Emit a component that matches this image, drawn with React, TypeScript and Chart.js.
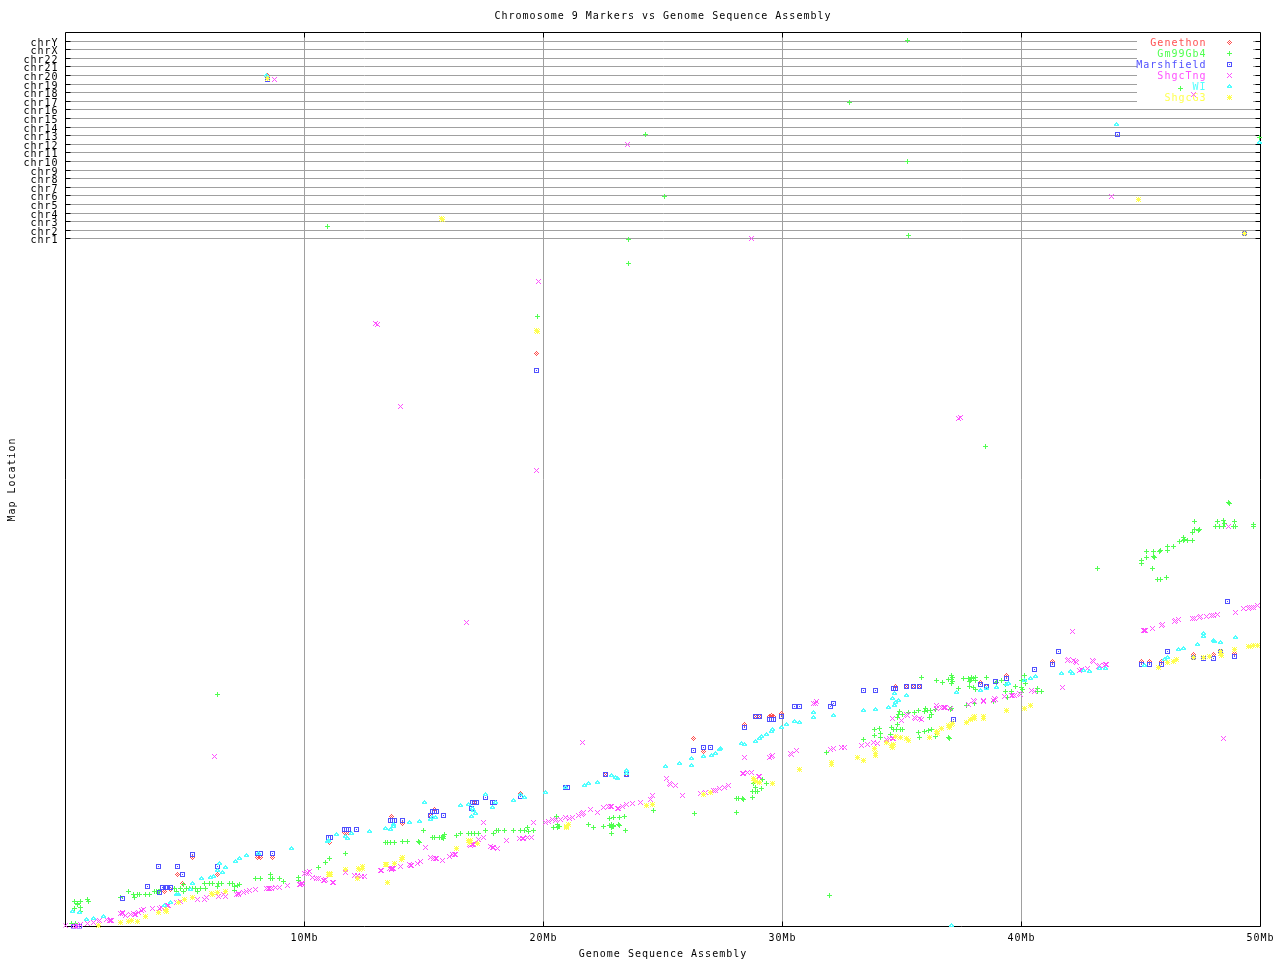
import React, { useEffect, useRef } from "react";
import { Chart, registerables } from "chart.js";

Chart.register(...registerables);

const chrNames = ["chrY","chrX","chr22","chr21","chr20","chr19","chr18","chr17","chr16","chr15","chr14","chr13","chr12","chr11","chr10","chr9","chr8","chr7","chr6","chr5","chr4","chr3","chr2","chr1"];
const chrLocations = [885,877,868,860,851,842,834,825,817,808,799,791,782,774,765,756,748,739,731,722,713,705,696,688];
const megabaseTicks = [10,20,30,40,50];

const genethon: number[][] = [
[5.33,69.3],[4.16,35],[4.41,36.7],[4.7,51.7],[4.91,42.7],[6.37,51.7],[8.05,69.3],[8.17,69.3],[8.67,69.3],[11.06,84.3],
[11.69,94.3],[11.77,94.3],[11.85,94.3],[13.65,109.7],[14.11,102.7],[15.44,116.7],[15.29,110.7],[19.05,132.7],[17.11,123.7],
[22.61,151.7],[23.49,151.7],[26.29,187.7],[26.71,174.7],[28.42,201.7],[28.88,209.7],[29.05,209.7],[29.47,209.7],[29.55,210.7],[29.64,209.7],[29.97,212.7],
[34.73,239.7],[35.2,239.7],[35.5,239.7],[35.75,239.7],[38.3,243.7],[38.55,239.7],[39.39,250.7],
[41.31,264.7],[45.03,264.7],[45.36,264.7],[45.87,264.7],[47.2,271.7],[48.04,271.7],[48.92,272.7],
[8.44,851],[19.71,573],
];

const gm99Gb4: number[][] = [
[0.39,25.3],[0.64,25.3],[0.64,19.3],[0.52,22.3],[0.39,17.7],[0.64,14.7],[0.93,27],[0.98,25.3],[0.26,3.3],[0.43,3.3],
[2.32,28.7],[2.65,34.7],[2.86,31.7],[2.9,28.7],[3.03,31.7],[3.11,31.7],[3.36,31.7],[3.53,31.7],[3.74,34.7],[3.82,34.7],[3.95,34.7],
[4.57,37.7],[4.66,34.7],[4.83,37.7],[4.95,42],[4.95,34.7],[5.08,37.7],[5.2,37.7],[5.33,37.7],[5.45,37.7],[5.54,34.7],[5.66,37.7],[5.87,37.7],
[5.83,42.7],[6.04,42.7],[6.16,42.7],[6.42,42.7],[6.37,39.7],[6.54,42.7],[6.88,42.7],[7,42.7],[7.08,39.7],[7.08,35.7],[7.21,40.7],[7.29,41.7],
[7.96,47.7],[8.17,47.7],[8.59,51.7],[8.59,47.7],[8.67,47.7],[8.97,47.7],[9.14,44.7],[9.76,48.7],[9.76,45.7],[10.6,58.7],[10.89,63.7],[11.06,67.7],
[11.73,72.7],[13.4,83.7],[13.49,83.7],[13.61,83.7],[13.78,83.7],[14.11,84.7],[14.32,84.7],[14.78,84.7],[14.83,83.7],[14.99,95.7],
[15.37,88.7],[15.45,88.7],[15.66,88.7],[15.79,88.7],[15.83,89.7],[15.87,91.7],[16.37,90.7],[16.54,92.7],[16.88,92.7],[17,92.7],[17.13,92.7],[17.3,92.7],
[17.59,95.7],[17.92,92.7],[18.05,95.7],[18.13,95.7],[18.38,95.7],[18.76,95.7],[19.05,95.7],[19.22,95.7],[19.39,94.7],[19.34,98.7],[19.6,95.7],
[20.56,110],[20.43,98.7],[20.6,98.7],[20.6,101.7],[20.65,99.7],[21.06,101.7],[21.9,101.7],[22.1,98.7],[22.52,99.7],[22.77,107.7],[22.94,108.7],[23.19,108.7],[23.4,109.7],
[22.77,100.7],[22.86,101.7],[22.94,99.7],[22.86,98.7],[23.15,101.7],[23.19,100.7],[22.86,92.7],[23.44,95.7],[24.62,115.7],[26.33,112.7],
[28.09,127.7],[28.17,127.7],[28.34,127.7],[28.38,126.7],[28.09,113.7],[28.76,128.7],[28.76,134.7],[28.88,134.7],[28.97,134.7],[29.13,137.7],[28.8,142.7],[29.17,146.7],[29.34,142.7],[28.88,138.7],
[31.85,173.7],[33.4,186.7],[33.86,196.7],[33.86,190.7],[34.07,197.7],[34.11,192.7],[34.11,188.7],[34.57,198.7],[34.53,191.7],[34.66,196.7],[34.78,196.7],[34.95,196.7],[35.03,196.7],[34.83,201.7],
[34.91,215.3],[34.87,211.7],[34.83,208.7],[35,211.7],[35.29,213.7],[35.54,214.3],[35.7,215.7],[35.95,214.7],[35.99,217.7],[36.08,215.7],[36.21,215.7],[36.25,212],[36.17,208.7],
[35.7,193.7],[35.75,188.7],[35.95,194.7],[36.12,195.7],[36.25,196.7],[36.42,189.7],[36.96,188.7],[36.42,216.7],[37.09,217.7],[37.04,216.7],
[35.83,248.7],[36.46,246],[36.71,244],[36.96,246.7],[37.09,250.7],[37.09,246.7],[37.09,242.7],[37.13,244.7],[37.38,237.7],
[37.59,247.7],[37.8,247.7],[37.92,248.7],[38.09,248.7],[37.84,244.7],[37.88,246],[38.09,246],[37.84,239.7],[38.09,236.7],[38,238.7],[38.55,248.7],[38.97,243.7],[39.18,245.7],
[39.34,241.7],[39.34,235.3],[39.59,234.7],[39.76,239.7],[40.01,238.7],[40.06,236.7],[40.01,233.7],[40.14,250.7],[40.14,246.7],[40.01,245.7],[40.18,242.7],[40.68,237.7],[40.68,234.7],[40.85,234.7],
[37.7,220.7],[38.84,224.7],[39.4,228.7],[38.05,222.7],
[48.68,423.7],[47.25,404.7],[48.21,404.7],[48.13,399.7],[48.29,399.7],[48.46,405.7],[48.46,399.7],[48.92,404.7],[48.88,399.7],[48.96,399.7],[49.72,401.7],[49.72,399.7],
[47.25,396.7],[47.46,396.7],[47.41,395.7],[47.16,393.7],[46.79,388.7],[46.62,384.7],[46.79,385.7],[46.95,385.7],[47.16,385.7],[46.37,379.7],[46.12,379.7],[46.12,375.7],[45.82,375.7],[45.78,374.7],
[45.53,374.7],[45.24,374.7],[45.03,365.7],[45.03,362.7],[45.24,368.7],[45.53,369.7],[45.57,368.7],[45.49,357.7],[43.19,357.7],[45.7,346.7],[45.82,346.7],[46.08,348.7],
[10.96,700],[24.27,792],[32.8,824],[35.23,886],[23.56,687],[23.56,663],[25.06,730],[35.27,691],[35.23,765],[19.75,610],[6.36,232],[38.49,480],[31.97,31],[49.97,788.7],[46.67,837.7],
[0.5,23],[3.9,34.7],[14.8,83.7],[15.75,88.7],[15.8,87.7],[22.9,100],[22.85,100.7],[22.92,101],[20.62,100],[37.1,248.7],[37.1,244.7],[48.7,422.7],[48.48,403],[47.43,396.7],[46.8,387],[36.98,188],[38,247.7],
];

const marshfield: number[][] = [
[2.4,27.7],[3.44,39.7],[3.91,59.7],[4.7,59.7],[4.91,51.7],[5.33,72.3],[3.95,33.7],[4.04,39.3],[4.17,39.3],[4.28,39.3],[4.41,39.3],[6.37,59.7],[8.05,72.7],[8.17,72.7],[8.67,72.7],[11.02,88.7],[11.1,88.7],[0.35,0],[0.6,0],
[11.69,96.7],[11.77,96.7],[11.85,96.7],[12.19,96.7],[13.6,105.7],[13.68,105.7],[13.77,105.7],[14.11,105.7],[15.29,110.7],[15.36,114.7],[15.44,114.7],[15.52,114.7],[15.83,110.7],
[17.59,129.3],[17.03,123.7],[17.11,123.7],[17.2,123.7],[16.99,117.7],[17.88,123.7],[17.96,123.7],[19.05,129.7],[20.93,138.7],[21,138.7],
[22.61,151.7],[23.49,151.7],[26.29,175.7],[26.71,178.7],[27,178.7],[28.42,198.7],[28.88,209.7],[29.05,209.7],[29.47,206.7],[29.55,206.7],[29.64,206.7],[29.97,209.7],[30.51,219.7],[30.72,219.7],[32.02,219.7],[32.15,222.7],
[33.4,235.7],[33.9,235.7],[34.66,237.7],[34.74,237.7],[35.2,239.7],[35.5,239.7],[35.75,239.7],[37.17,206.7],[38.3,241.7],[38.55,239.7],[38.93,244.7],[39.39,247.7],[40.56,256.7],[41.31,261.7],[41.56,274.7],
[45.03,261.7],[45.36,261.7],[45.87,261.7],[46.12,274.7],[48.63,324.7],[47.2,268.7],[47.62,268],[48.04,268],[48.34,274.7],[48.92,269.7],
[44.03,791.7],[49.34,693.3],[8.44,847],[19.71,556],
];

const shgcTng: number[][] = [
[0.01,0.7],[0.35,0],[0.52,0.7],[0.64,2],[0.93,2.7],[1.19,3.7],[1.39,4.7],[1.44,5.7],[1.73,6.7],[1.85,5.7],[1.94,5.7],
[2.32,12.7],[2.4,13.7],[2.52,10.7],[2.73,11.7],[2.86,12.7],[2.94,11.7],[3.07,13.7],[3.19,15.7],[3.28,16.7],[3.65,17.7],[3.95,17.7],[4.03,18.7],[4.24,20.7],[4.32,20.7],[4.66,23.7],[4.83,24.7],
[5.54,26.7],[5.83,26.7],[5.91,28.7],[6.42,30.3],[6.71,29.7],[6.62,31.7],[7.17,32],[7.25,32.7],[7.46,33.7],[7.59,34.7],[7.71,35.7],[7.96,36.7],[8.42,37.7],[8.55,37.7],[8.63,38.3],[8.8,38.7],[8.97,38.7],[9.3,40.7],
[9.8,42],[9.89,42.7],[10.01,52.7],[10.14,53.7],[10.22,54.7],[10.35,48.7],[10.52,47.7],[10.6,47.7],[10.81,45.7],[10.89,46.7],[11.19,43.7],[11.23,43.7],
[11.73,53.7],[12.11,50.7],[12.23,50.7],[12.4,49.7],[12.53,49.7],[13.19,55.7],[13.57,57.7],[13.7,57.7],[14.03,59.7],[14.41,61.7],[14.49,60.7],[14.74,62.7],[14.87,64.7],[15.08,78.7],
[15.29,68.7],[15.41,67.7],[15.54,67.7],[15.79,65.7],[16.08,69.7],[16.2,71.7],[16.33,71.7],[16.92,81.7],[17,81.7],[17.09,81.7],[17.3,86.7],[17.5,88.7],[17.5,103.7],[17.8,79.7],[17.92,78.7],[18.09,77.7],[18.47,85.7],
[19.01,87.7],[19.18,87.7],[19.34,88.7],[19.51,88.7],[19.6,103.7],[20.1,103.7],[20.22,104.7],[20.39,106.7],[20.56,106.7],[20.73,106.7],[20.93,108.7],[21.1,107.7],[21.23,108.7],[21.48,110.7],[21.6,111.7],[21.69,113.7],[21.98,116.7],[22.27,113.7],[21.65,183.7],
[22.52,118.7],[22.73,119.7],[22.86,119.7],[23.11,117.7],[23.32,119.7],[23.49,121.7],[23.74,122.7],[24.07,123.7],[24.49,126.7],[24.57,130.7],[25.16,147.7],[25.28,142.7],[25.53,140.7],[25.83,130.7],
[26.58,132.7],[26.79,133.7],[27.13,135.7],[27.38,137.7],[27.59,138.7],[27.75,140.7],[28.42,168.7],[28.34,152.7],[28.55,153.7],[28.72,153.7],[29.01,149.7],[29.47,168.7],[29.59,170.7],[30.33,172.7],[30.6,175.7],[31.31,222.7],[31.43,224.7],
[32.02,176.7],[32.15,177.7],[32.48,178.7],[32.61,178.7],[33.32,180.7],[33.57,181.7],[33.82,183.7],[33.99,182.7],[34.37,186.7],[34.49,187.7],[34.66,187.7],[34.62,207.7],[34.99,205.7],[35.2,211.7],[35.54,208.7],[35.75,207.7],
[36.46,220.7],[36.46,217.7],[36.67,218.7],[36.83,218.7],[37.04,217.7],[37.8,221.7],[38,225.7],[38.42,225.7],[38.88,227.7],[38.84,225.7],[39.3,229.7],[39.59,230.7],[39.72,230.7],[39.93,232.7],[40.43,235.7],[40.56,234.7],
[42.14,294.7],[41.93,265.7],[42.18,265.7],[42.3,263.7],[42.44,255.7],[42.77,257.7],[42.98,265.7],[43.23,259.7],[43.48,260.7],[43.57,261.7],[41.72,238.7],
[45.11,296],[45.2,296],[45.49,297.7],[45.87,300.7],[46.41,304.7],[46.58,306.7],[47.16,307.7],[47.46,309],[47.75,310],[47.96,311],[48.21,312],[48.96,313.7],[49.3,317.7],[49.55,318.7],[49.72,318.7],[49.88,320.7],[48.68,399.7],
[8.76,846.7],[43.75,729.7],[47.21,831.7],[23.51,782],[28.7,688],[19.79,645],[19.71,456],[12.97,603],[13.05,602],[14.02,520],[16.78,304],[37.36,508],[37.45,509],[6.23,170],[21.63,184],[48.45,188],
[41.98,266.7],[42.25,264.7],[43.03,264.7],[42.5,256.7],[43.28,260.7],[43.52,261.7],[45.15,296.5],[45.92,301.7],[46.46,305.7],[47.22,307.7],[47.5,310],[48.03,311.5],[49.5,318.5],[49.62,318.7],
[0.42,0.3],[0.55,0],[1.9,6.2],[2.37,13],[2.9,12.2],[4.28,21],[7.22,32.3],[8.5,38],[9.85,42.3],[10.07,53.2],
[9.9,43],[10.85,46],[11.23,44],[13.24,56.2],[13.62,57.7],[13.66,57.2],[13.74,57.7],[14.45,61.2],[15.47,67.7],[16.26,71.7],[16.96,81],[17.03,82.3],[17.85,79.2],[19.14,87.7],[20.5,106.2],[21.65,112.7],
[22.8,119.7],[23.15,118.2],[25.33,142.2],[27.18,135.7],[28.38,153],[29.05,150.2],[29.53,169.7],[30.38,172.2],[31.37,223.5],[32.58,178.7],
[34.6,187.7],[35.25,211.2],[35.58,208.2],[35.8,207.2],[36.72,218.7],[36.78,218.7],[38.05,225.2],[38.42,224.7],[38.92,226.7],[39.62,230.7],[39.97,232.2],
];

const wi: number[][] = [
[0.31,14.7],[0.6,14.3],[0.89,6.7],[1.19,7.7],[1.6,9.7],[4.16,21],[4.41,24],[4.66,32],[4.74,32],[5.24,36.7],[5.33,43.3],[5.7,47.7],[6.08,48.7],[6.21,50],[6.37,56],[6.46,62.7],[6.58,54],[6.71,58.7],[7.13,64.7],[7.29,67.7],[7.59,70.7],[8.09,72.7],[9.47,77.7],[10.98,84.7],[11.35,92],
[11.02,85.7],[11.73,89.7],[11.81,87.7],[11.98,92.7],[12.73,94.7],[13.4,97.7],[13.61,96.7],[13.74,99.7],[13.74,101.7],[14.41,103.7],[14.83,104.7],[15.04,124],[15.29,106.7],[15.37,108.7],[15.5,108.7],
[16.54,120.7],[16.88,121.7],[17,109.7],[17.04,117.7],[17.09,115.7],[17.17,112.7],[17.88,118.7],[18,123.7],[17.59,131.7],[18.76,125.7],[19.05,131.7],[19.22,128.7],[20.1,133.7],[20.93,138.7],[21.73,140.7],[21.9,142.7],[22.27,143.7],
[22.86,150.7],[23.03,148.7],[23.11,147.7],[23.49,155.7],[23.49,152.7],[25.12,159.7],[25.7,162.7],[26.2,167.7],[26.2,160.7],[26.71,169.7],[27.04,170.7],[27.21,172.7],[27.38,176.7],[27.42,177.7],
[28.3,182.7],[28.42,181.7],[28.88,184.7],[29.05,187.7],[29.13,189.7],[29.34,191.7],[29.55,194.7],[29.59,196.7],[29.97,198.7],[30.18,201.7],[30.51,204.7],[30.72,203.7],[31.31,213.7],[31.31,208.7],[32.15,210.7],
[33.4,215.7],[33.9,216.7],[34.45,218.7],[34.62,227.7],[34.74,223.7],[34.7,220.7],[34.87,225.7],[35.2,230.7],[34.7,232.7],[37.3,233.7],[38.3,235.7],[38.55,237.7],[38.97,238.7],[39.39,241.7],[39.47,242.7],[40.14,245.7],[40.39,247.7],[40.6,249.7],
[41.68,252.7],[42.06,254.7],[42.14,252.7],[42.6,255.7],[42.85,254.7],[43.27,257.7],[43.52,257.7],[45.16,260.7],[46,266.7],[46.12,268.7],[46.58,276.7],[46.79,277.7],[47.37,281.7],[47.62,292.7],[47.62,290],[48.04,286],[48.08,284.7],[48.34,284],[48.96,289.3],
[8.41,851],[43.99,802],[49.97,784],[37.07,1],
];

const shgcG3: number[][] = [
[1.39,1.3],[2.32,3.7],[2.65,4.7],[2.78,5.7],[3.03,4.7],[3.36,9.7],[3.91,13.7],[4.2,15.7],[4.24,16.7],[4.74,23.7],[4.99,26.7],[5.33,28.7],[6.12,32.7],[6.37,33.7],[6.71,34.7],[11,51.7],[11.06,52.7],
[11.73,56.7],[12.27,57.7],[12.44,59.7],[12.23,47.7],[13.4,61.7],[13.49,43.7],[13.78,62.7],[14.07,66.7],[14.11,68.7],[16.37,77.7],[16.88,85.7],[16.96,85.7],[17.25,82.7],[20.98,98.7],[21.06,101.7],
[24.32,120.7],[24.57,121.7],[26.71,131.7],[27,133.7],[28.8,147.7],[28.88,144.7],[29.05,143.7],[29.59,142.7],[30.72,156.7],[32.05,163.7],[33.15,168.7],[33.4,165.7],[33.86,177.7],[33.9,172.7],
[34.37,183.7],[34.57,180.7],[34.66,181.7],[34.74,189.7],[34.95,188.7],[35.2,187.7],[35.29,185.7],[36.17,188.7],[36.46,194.7],[36.67,197.7],[36.96,200.7],[37.13,202.7],[37.71,203.7],[37.88,206.7],[38.05,210],[38.42,210],[39.39,215.7],[40.14,217.7],[40.39,220.7],
[45.74,258.7],[46.12,263.7],[46.37,264.7],[46.49,266.7],[47.2,268.7],[47.62,268.7],[47.87,269.7],[48.34,272.7],[48.92,276.7],[49.51,279.7],[49.72,280.7],[49.88,280.7],
[15.73,708],[44.91,726.7],[19.71,596],[49.34,692.7],[8.45,848],
[15.78,707],[19.74,595],[33.9,170.7],[38.05,208],[38.42,208],[38,209],[20.98,100],[11.03,52],[14.05,67.5],[12.3,57],[12.42,58.5],[13.43,62],[16.9,84],[28.84,146],[36.5,193],[37,199],[37.08,202],[34.6,179],[11.1,52],[5.3,29],[6.15,32],[6.35,34],[32.05,162],[4.22,15.2],[47.85,270],[48.36,271],[48.34,275],[49.6,280],
];

const seriesNames = ["Genethon","Gm99Gb4","Marshfield","ShgcTng","WI","ShgcG3"];
const seriesColors = ["#ff5050","#50ff50","#5050ff","#ff50ff","#50ffff","#ffff50"];
const seriesValues = [genethon, gm99Gb4, marshfield, shgcTng, wi, shgcG3];
const glyphs = [
  ["..#..",".#.#.","#.#.#",".#.#.","..#.."],
  ["..#..","..#..","#####","..#..","..#.."],
  ["#####","#...#","#.#.#","#...#","#####"],
  ["#...#",".#.#.","..#..",".#.#.","#...#"],
  ["..#..",".###.","##.##","#####"],
  ["#.#.#",".###.","#####",".###.","#.#.#"],
];

const FONT = '"DejaVu Sans Mono"';
const FONT_SIZE = 10;

function makeGlyph(rows: string[], color: string): HTMLCanvasElement {
  const c = document.createElement("canvas");
  c.width = 5;
  c.height = 5;
  const g = c.getContext("2d")!;
  g.fillStyle = color;
  rows.forEach((row, j) => {
    for (let i = 0; i < row.length; i++) if (row[i] === "#") g.fillRect(i, j, 1, 1);
  });
  return c;
}

export default function App() {
  const ref = useRef<HTMLCanvasElement>(null);
  useEffect(() => {
    const icons = glyphs.map((g, i) => makeGlyph(g, seriesColors[i]));
    const framePlugin = {
      id: "frame",
      beforeLayout(chart: any) {
        chart.ctx.letterSpacing = "1px";
      },
      beforeDraw(chart: any) {
        chart.ctx.letterSpacing = "1px";
      },
      beforeDatasetsDraw(chart: any) {
        const { ctx, chartArea: a, scales } = chart;
        const L = Math.floor(a.left) + 0.5;
        const R = Math.floor(a.right) + 0.5;
        const T = Math.floor(a.top) + 0.5;
        const B = Math.floor(a.bottom) + 0.5;
        ctx.imageSmoothingEnabled = false;
        // Legend panel
        ctx.fillStyle = "#ffffff";
        ctx.fillRect(1137, 36, 116, 70);
        ctx.font = `${FONT_SIZE}px ${FONT}`;
        ctx.textAlign = "right";
        ctx.textBaseline = "middle";
        chart.data.datasets.forEach((d: any, i: number) => {
          const y = 43.5 + i * 11;
          ctx.fillStyle = seriesColors[i];
          ctx.fillText(d.label, 1206.5, y);
          ctx.drawImage(icons[i], 1227, Math.floor(y) - 3);
        });
        // Frame and inward tick marks
        ctx.strokeStyle = "#000000";
        ctx.lineWidth = 1;
        ctx.beginPath();
        ctx.rect(L, T, R - L, B - T);
        scales.x.ticks.forEach((t: any) => {
          const x = Math.floor(scales.x.getPixelForValue(t.value)) + 0.5;
          if (x <= L + 1 || x >= R - 1) return;
          ctx.moveTo(x, T); ctx.lineTo(x, T + 5);
          ctx.moveTo(x, B); ctx.lineTo(x, B - 5);
        });
        scales.y.ticks.forEach((t: any) => {
          const y = Math.floor(scales.y.getPixelForValue(t.value)) + 0.5;
          ctx.moveTo(L, y); ctx.lineTo(L + 5, y);
          ctx.moveTo(R, y); ctx.lineTo(R - 5, y);
        });
        ctx.stroke();
      },
    };
    const chart = new Chart(ref.current!, {
      type: "scatter",
      data: {
        datasets: seriesValues.map((vals, i) => ({
          label: seriesNames[i],
          data: vals.map(([x, y]) => ({ x, y })),
          showLine: false,
          order: 6 - i,
          pointStyle: icons[i] as any,
          pointRadius: 3,
          pointHoverRadius: 3,
          borderWidth: 0,
          clip: 2,
        })),
      },
      plugins: [framePlugin],
      options: {
        animation: false,
        responsive: false,
        devicePixelRatio: 1,
        layout: { padding: 0 },
        plugins: {
          legend: { display: false },
          tooltip: { enabled: false },
          title: {
            display: true,
            fullSize: false,
            text: "Chromosome 9 Markers vs Genome Sequence Assembly",
            color: "#000000",
            font: { family: FONT, size: FONT_SIZE, weight: "normal", lineHeight: 1.2 },
            padding: { top: 10, bottom: 10.5 },
          },
        },
        scales: {
          x: {
            type: "linear",
            min: 0,
            max: 50,
            afterFit(s: any) {
              s.height = 33.5;
              s.paddingRight = 19.5;
              s.paddingLeft = 0;
            },
            afterBuildTicks(s: any) { s.ticks = [0, ...megabaseTicks].map((value) => ({ value })); },
            grid: { color: "#a0a0a0", lineWidth: 1, drawTicks: false },
            border: { display: false },
            ticks: {
              autoSkip: false,
              maxRotation: 0,
              padding: 6,
              color: "#000000",
              font: { family: FONT, size: FONT_SIZE },
              callback: (v: any) => (v === 0 ? "" : `${v}Mb`),
            },
            title: {
              display: true,
              text: "Genome Sequence Assembly",
              color: "#000000",
              font: { family: FONT, size: FONT_SIZE },
              padding: { top: 0, bottom: 0 },
            },
          },
          y: {
            type: "linear",
            min: 0,
            max: 894,
            afterFit(s: any) {
              s.width = 65.5;
              s.paddingTop = 0;
              s.paddingBottom = 0;
            },
            afterBuildTicks(s: any) { s.ticks = chrLocations.map((value) => ({ value })); },
            grid: { color: "#a0a0a0", lineWidth: 1, drawTicks: false },
            border: { display: false },
            ticks: {
              autoSkip: false,
              padding: 7,
              labelOffset: 1.5,
              color: "#000000",
              font: { family: FONT, size: FONT_SIZE },
              callback: (v: any) => chrNames[chrLocations.indexOf(v)] ?? "",
            },
            title: {
              display: true,
              text: "Map Location",
              color: "#000000",
              font: { family: FONT, size: FONT_SIZE },
              padding: { top: 6, bottom: 0 },
            },
          },
        },
      },
    } as any);
    return () => chart.destroy();
  }, []);
  return (
    <div style={{ position: "fixed", left: 0, top: 0, width: 1280, height: 960, background: "#fff" }}>
      <canvas ref={ref} width={1280} height={960} style={{ display: "block", width: 1280, height: 960 }} />
    </div>
  );
}
